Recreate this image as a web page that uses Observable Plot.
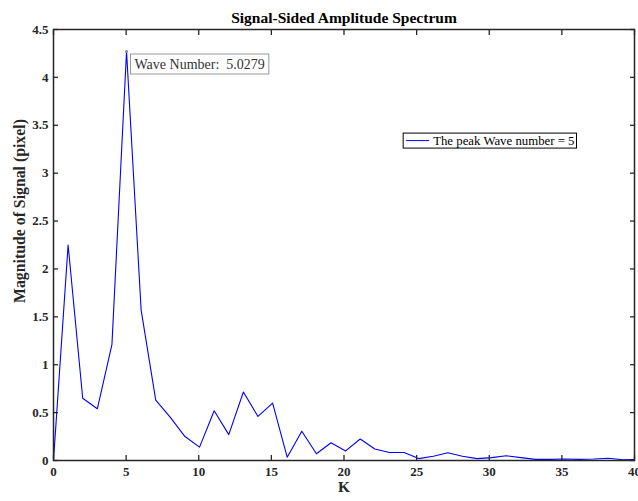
<!DOCTYPE html>
<html>
<head>
<meta charset="utf-8">
<script src="https://cdn.jsdelivr.net/npm/d3@7"></script>
<script src="https://cdn.jsdelivr.net/npm/@observablehq/plot@0.6"></script>
<style>
  html, body { margin: 0; padding: 0; background: #fff; }
  #chart { width: 638px; height: 501px; }
</style>
</head>
<body>
<div id="chart"></div>
<script>
const waveNumber = [0, 1.0056, 2.0112, 3.0167, 4.0223, 5.0279, 6.0335, 7.0391, 8.0446, 9.0502,
  10.0558, 11.0614, 12.067, 13.0725, 14.0781, 15.0837, 16.0893, 17.0949, 18.1004, 19.106,
  20.1116, 21.1172, 22.1228, 23.1283, 24.1339, 25.1395, 26.1451, 27.1507, 28.1562, 29.1618,
  30.1674, 31.173, 32.1786, 33.1841, 34.1897, 35.1953, 36.2009, 37.2065, 38.2121, 39.2176, 40.2232];
const magnitude = [0, 2.25, 0.65, 0.54, 1.21, 4.27, 1.57, 0.63, 0.45, 0.25,
  0.14, 0.52, 0.27, 0.715, 0.46, 0.60, 0.035, 0.305, 0.07, 0.185,
  0.10, 0.225, 0.12, 0.083, 0.083, 0.02, 0.045, 0.08, 0.045, 0.02,
  0.03, 0.05, 0.03, 0.012, 0.012, 0.015, 0.012, 0.015, 0.024, 0.008, 0.01];
const xTicks = [0, 5, 10, 15, 20, 25, 30, 35, 40];
const yTicks = [0, 0.5, 1, 1.5, 2, 2.5, 3, 3.5, 4, 4.5];
const peakIndex = 5;
const titleText = "Signal-Sided Amplitude Spectrum";
const xLabel = "K";
const yLabel = "Magnitude of Signal (pixel)";
const legendText = "The peak Wave number = 5";
const tipText = "Wave Number:  5.0279";

const data = waveNumber.map((x, i) => ({x, y: magnitude[i]}));
const peak = [data[peakIndex]];
const axisColor = "#262626";
const font = "'Liberation Serif', 'Times New Roman', serif";
const tickOpts = {tickSize: 5, tickFormat: () => "", label: null, stroke: axisColor, strokeWidth: 1.3};

const chart = Plot.plot({
  width: 638,
  height: 501,
  marginLeft: 53,
  marginRight: 4,
  marginTop: 29,
  marginBottom: 41,
  style: {fontFamily: font, background: "#fff", color: axisColor, overflow: "visible"},
  x: {domain: [0, 40], ticks: xTicks},
  y: {domain: [0, 4.5], ticks: yTicks},
  marks: [
    Plot.line(data, {x: "x", y: "y", stroke: "#0000ff", strokeWidth: 1.1, clip: true}),
    Plot.dot(peak, {x: "x", y: "y", r: 1.5, fill: "#888", stroke: "none"}),
    Plot.axisX(xTicks, {...tickOpts, anchor: "bottom", dy: -5}),
    Plot.axisX(xTicks, {...tickOpts, anchor: "top", dy: 5}),
    Plot.axisY(yTicks, {...tickOpts, anchor: "left", dx: 5}),
    Plot.axisY(yTicks, {...tickOpts, anchor: "right", dx: -5}),
    Plot.frame({stroke: axisColor, strokeWidth: 1.5}),
    Plot.axisX(xTicks, {anchor: "bottom", tickSize: 0, tickPadding: 6, fontSize: 13, fontWeight: "bold", fill: axisColor, label: null, tickFormat: d => String(d)}),
    Plot.axisY(yTicks, {anchor: "left", tickSize: 0, tickPadding: 5, fontSize: 13, fontWeight: "bold", fill: axisColor, label: null, tickFormat: d => String(d)}),
    Plot.text([titleText], {frameAnchor: "top", dy: -18, fontSize: 15.5, fontWeight: "bold", fill: "#000", text: d => d}),
    Plot.text([xLabel], {frameAnchor: "bottom", dy: 31.5, fontSize: 15.5, fontWeight: "bold", fill: axisColor, text: d => d}),
    Plot.text([yLabel], {frameAnchor: "left", dx: -34, dy: -34, rotate: -90, textAnchor: "middle", fontSize: 15.8, fontWeight: "bold", fill: axisColor, text: d => d}),
    Plot.text(peak, {x: "x", y: "y", text: () => tipText, textAnchor: "start", dx: 8, dy: 13, fontSize: 14, fill: "#333", className: "tiptext"}),
    Plot.text([legendText], {frameAnchor: "top-right", dx: -60, dy: 106, textAnchor: "end", fontSize: 12.8, fill: "#000", className: "legendtext", text: d => d})
  ]
});
document.getElementById("chart").appendChild(chart);

// Box behind the data tip
const svg = d3.select(chart);
svg.selectAll(".tiptext text").each(function() {
  const b = this.getBBox();
  const t = this.getAttribute("transform");
  d3.select(this.parentNode).insert("rect", "text")
    .attr("transform", t)
    .attr("x", b.x - 4).attr("y", b.y - 3)
    .attr("width", b.width + 8).attr("height", b.height + 5)
    .attr("fill", "#fff").attr("stroke", "#999").attr("stroke-width", 1);
});
// Legend box with line sample
svg.selectAll(".legendtext text").each(function() {
  const b = this.getBBox();
  const t = this.getAttribute("transform");
  const g = d3.select(this.parentNode);
  g.insert("rect", "text")
    .attr("transform", t)
    .attr("x", b.x - 30).attr("y", b.y - 0.5)
    .attr("width", b.width + 32).attr("height", b.height + 1)
    .attr("fill", "#fff").attr("stroke", "#000").attr("stroke-width", 1);
  g.insert("line", "text")
    .attr("transform", t)
    .attr("x1", b.x - 27).attr("x2", b.x - 4)
    .attr("y1", b.y + b.height / 2).attr("y2", b.y + b.height / 2)
    .attr("stroke", "#0000ff").attr("stroke-width", 1);
});
</script>
</body>
</html>
